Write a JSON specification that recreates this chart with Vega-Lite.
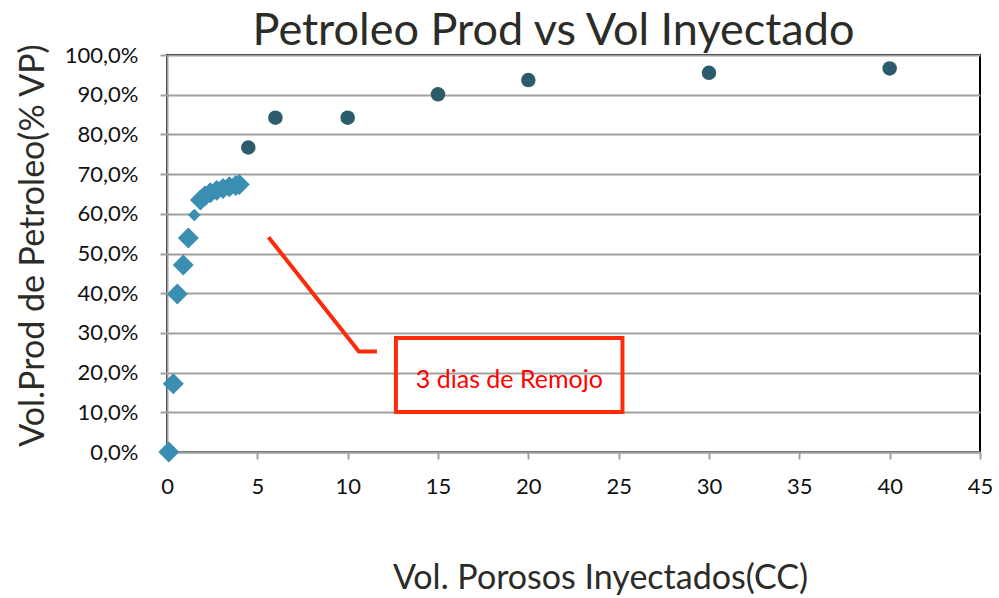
{
  "$schema": "https://vega.github.io/schema/vega-lite/v6.json",
  "autosize": "none",
  "width": 813,
  "height": 397,
  "padding": {"left": 167, "top": 55, "right": 19, "bottom": 146},
  "background": "white",
  "config": {
    "font": "Lato",
    "view": {"stroke": "black", "strokeWidth": 2},
    "axis": {"grid": false}
  },
  "title": {
    "text": "Petroleo Prod vs Vol Inyectado",
    "font": "Lato",
    "fontSize": 45,
    "fontWeight": "normal",
    "color": "#2b2b28",
    "anchor": "middle",
    "baseline": "alphabetic",
    "dx": -20,
    "dy": 47,
    "offset": 0
  },
  "datasets": {
    "puntos": [
      {"vp": 0.1, "rec": 0.0, "etapa": "Inicial"},
      {"vp": 0.35, "rec": 0.172, "etapa": "Inicial"},
      {"vp": 0.57, "rec": 0.398, "etapa": "Inicial"},
      {"vp": 0.9, "rec": 0.471, "etapa": "Inicial"},
      {"vp": 1.18, "rec": 0.539, "etapa": "Inicial"},
      {"vp": 1.51, "rec": 0.597, "etapa": "Transicion"},
      {"vp": 1.85, "rec": 0.635, "etapa": "Inicial"},
      {"vp": 2.1, "rec": 0.645, "etapa": "Inicial"},
      {"vp": 2.4, "rec": 0.653, "etapa": "Inicial"},
      {"vp": 2.75, "rec": 0.659, "etapa": "Inicial"},
      {"vp": 3.1, "rec": 0.664, "etapa": "Inicial"},
      {"vp": 3.45, "rec": 0.668, "etapa": "Inicial"},
      {"vp": 3.8, "rec": 0.671, "etapa": "Inicial"},
      {"vp": 4.0, "rec": 0.674, "etapa": "Inicial"},
      {"vp": 4.5, "rec": 0.767, "etapa": "Remojo"},
      {"vp": 6, "rec": 0.842, "etapa": "Remojo"},
      {"vp": 10, "rec": 0.842, "etapa": "Remojo"},
      {"vp": 15, "rec": 0.901, "etapa": "Remojo"},
      {"vp": 20, "rec": 0.937, "etapa": "Remojo"},
      {"vp": 30, "rec": 0.955, "etapa": "Remojo"},
      {"vp": 40, "rec": 0.966, "etapa": "Remojo"}
    ],
    "flecha": [
      {"vp": 5.62, "rec": 0.541, "orden": 1},
      {"vp": 10.62, "rec": 0.253, "orden": 2},
      {"vp": 11.62, "rec": 0.253, "orden": 3}
    ],
    "caja": [
      {"vp": 12.67, "vp2": 25.21, "rec": 0.287, "rec2": 0.1007}
    ],
    "rotulo": [
      {"vp": 18.95, "rec": 0.181, "texto": "3 dias de Remojo"}
    ]
  },
  "encoding": {
    "x": {
      "field": "vp", "type": "quantitative",
      "scale": {"domain": [0, 45], "nice": false, "zero": true},
      "axis": {
        "values": [0, 5, 10, 15, 20, 25, 30, 35, 40, 45],
        "title": "Vol. Porosos Inyectados(CC)",
        "titleFont": "Lato", "titleFontSize": 34, "titleFontWeight": "normal", "titleColor": "#2b2b28",
        "titleX": 433, "titleY": 126, "titleBaseline": "middle", "titleAnchor": null,
        "labelFont": "Lato", "labelFontSize": 22, "labelColor": "#111", "labelPadding": 17,
        "labelFlush": false, "labelOverlap": false,
        "domainColor": "#a0a0a0", "domainWidth": 2,
        "tickColor": "#a0a0a0", "tickWidth": 2, "tickSize": 7,
        "grid": false
      }
    },
    "y": {
      "field": "rec", "type": "quantitative",
      "scale": {"domain": [0, 1], "nice": false},
      "axis": {
        "values": [0, 0.1, 0.2, 0.3, 0.4, 0.5, 0.6, 0.7, 0.8, 0.9, 1.0],
        "labelExpr": "replace(format(datum.value, '.1%'), '.', ',')",
        "title": "Vol.Prod de Petroleo(% VP)",
        "titleFont": "Lato", "titleFontSize": 34, "titleFontWeight": "normal", "titleColor": "#2b2b28",
        "titleX": -134, "titleY": 190, "titleAngle": -90, "titleBaseline": "middle", "titleAlign": "center", "titleAnchor": null,
        "labelFont": "Lato", "labelFontSize": 22, "labelColor": "#111", "labelPadding": 22,
        "labelFlush": false, "labelOverlap": false,
        "domainColor": "#a0a0a0", "domainWidth": 2,
        "tickColor": "#a0a0a0", "tickWidth": 2, "tickSize": 7,
        "grid": true, "gridColor": "#a0a0a0", "gridWidth": 2
      }
    }
  },
  "layer": [
    {
      "data": {"name": "puntos"},
      "transform": [{"filter": "datum.etapa == 'Inicial'"}],
      "mark": {"type": "point", "shape": "diamond", "filled": true, "opacity": 1, "size": 440, "color": "#3a8eb1", "clip": false}
    },
    {
      "data": {"name": "puntos"},
      "transform": [{"filter": "datum.etapa == 'Transicion'"}],
      "mark": {"type": "point", "shape": "diamond", "filled": true, "opacity": 1, "size": 160, "color": "#3a8eb1", "clip": false}
    },
    {
      "data": {"name": "puntos"},
      "transform": [{"filter": "datum.etapa == 'Remojo'"}],
      "mark": {"type": "point", "shape": "circle", "filled": true, "opacity": 1, "size": 210, "color": "#2c5b6b", "clip": false}
    },
    {
      "data": {"name": "flecha"},
      "mark": {"type": "line", "color": "#ff2a0a", "strokeWidth": 4, "strokeJoin": "miter", "strokeCap": "butt"},
      "encoding": {
        "order": {"field": "orden", "type": "quantitative"}
      }
    },
    {
      "data": {"name": "caja"},
      "mark": {"type": "rect", "fill": null, "fillOpacity": 0, "stroke": "#ff2a0a", "strokeWidth": 4},
      "encoding": {
        "x2": {"field": "vp2"},
        "y2": {"field": "rec2"}
      }
    },
    {
      "data": {"name": "rotulo"},
      "mark": {"type": "text", "color": "#ff0000", "font": "Lato", "fontSize": 25, "align": "center", "baseline": "middle"},
      "encoding": {
        "text": {"field": "texto"}
      }
    }
  ]
}
